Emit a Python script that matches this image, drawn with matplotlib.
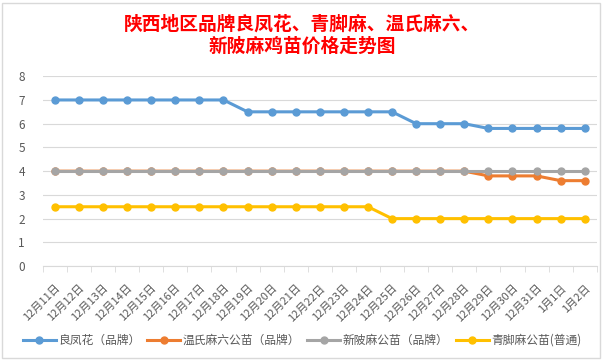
import matplotlib
matplotlib.use("Agg")
import matplotlib.pyplot as plt
from matplotlib.patches import Rectangle

plt.rcParams['font.family'] = ['Noto Sans CJK SC', 'DejaVu Sans']

dates = ["12月11日", "12月12日", "12月13日", "12月14日", "12月15日", "12月16日",
         "12月17日", "12月18日", "12月19日", "12月20日", "12月21日", "12月22日",
         "12月23日", "12月24日", "12月25日", "12月26日", "12月27日", "12月28日",
         "12月29日", "12月30日", "12月31日", "1月1日", "1月2日"]

liangfenghua = [7.0, 7.0, 7.0, 7.0, 7.0, 7.0, 7.0, 7.0, 6.5, 6.5, 6.5, 6.5,
                6.5, 6.5, 6.5, 6.0, 6.0, 6.0, 5.8, 5.8, 5.8, 5.8, 5.8]
wenshi = [4.0, 4.0, 4.0, 4.0, 4.0, 4.0, 4.0, 4.0, 4.0, 4.0, 4.0, 4.0,
          4.0, 4.0, 4.0, 4.0, 4.0, 4.0, 3.8, 3.8, 3.8, 3.6, 3.6]
xinpi = [4.0] * 23
qingjiao = [2.5, 2.5, 2.5, 2.5, 2.5, 2.5, 2.5, 2.5, 2.5, 2.5, 2.5, 2.5,
            2.5, 2.5, 2.0, 2.0, 2.0, 2.0, 2.0, 2.0, 2.0, 2.0, 2.0]

series = [
    ("良凤花（品牌）", liangfenghua, "#5B9BD5"),
    ("温氏麻六公苗（品牌）", wenshi, "#ED7D31"),
    ("新陂麻公苗（品牌）", xinpi, "#A5A5A5"),
    ("青脚麻公苗(普通)", qingjiao, "#FFC000"),
]

fig = plt.figure(figsize=(6.04, 3.63), dpi=100)
ax = fig.add_axes([0.071, 0.267, 0.917, 0.523])

x = list(range(len(dates)))
for name, vals, color in series:
    ax.plot(x, vals, color=color, lw=2.2, marker="o", ms=5, label=name)

ax.set_xlim(-0.5, len(dates) - 0.5)
ax.set_ylim(0, 8)
ax.set_yticks(range(0, 9))
ax.grid(axis="y", color="#D9D9D9", lw=0.8)
ax.set_axisbelow(True)
for s in ["top", "right", "left"]:
    ax.spines[s].set_visible(False)
ax.spines["bottom"].set_color("#D9D9D9")
ax.tick_params(axis="y", length=0, labelsize=8.5, labelcolor="#595959", pad=13)

ax.set_xticks(x)
ax.set_xticklabels(dates, rotation=45, ha="right", rotation_mode="anchor",
                   fontsize=8, color="#595959")
ax.tick_params(axis="x", length=0, pad=12)
ax.set_xticks([i - 0.5 for i in range(len(dates) + 1)], minor=True)
ax.tick_params(axis="x", which="minor", length=4, color="#D9D9D9")

fig.text(0.5, 0.903, "陕西地区品牌良凤花、青脚麻、温氏麻六、\n新陂麻鸡苗价格走势图",
         ha="center", va="center", color="red", fontsize=13.5, fontweight="bold",
         linespacing=1.2)

fig.legend(loc="center", bbox_to_anchor=(0.5, 0.062), ncol=4, frameon=False,
           fontsize=8.5, handlelength=2.8, columnspacing=0.6, handletextpad=0.2,
           labelcolor="#595959")

fig.patches.append(Rectangle((0.004, 0.014), 0.99, 0.978, transform=fig.transFigure,
                             fill=False, edgecolor="#D9D9D9", lw=1))

fig.savefig("out.png", dpi=100, facecolor="white")
